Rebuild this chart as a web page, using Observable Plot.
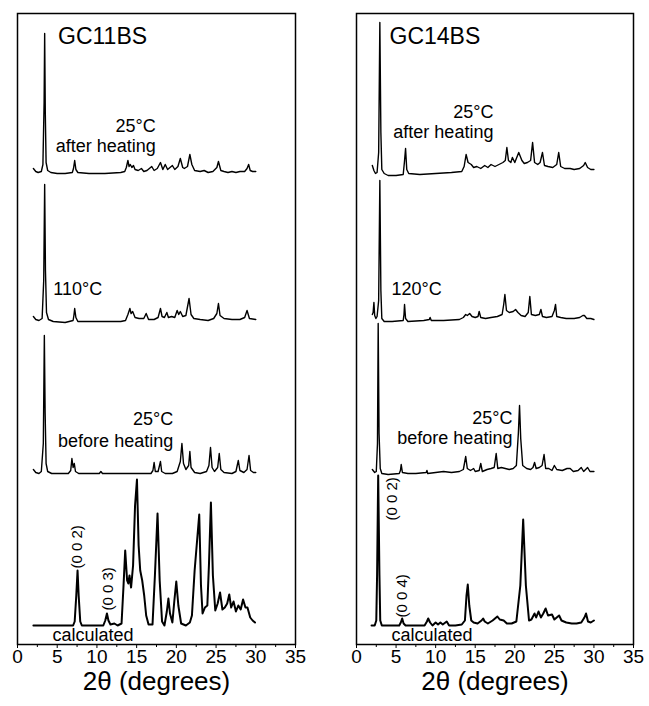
<!DOCTYPE html>
<html><head><meta charset="utf-8">
<script src="https://cdn.jsdelivr.net/npm/d3@7"></script>
<script src="https://cdn.jsdelivr.net/npm/@observablehq/plot@0.6"></script>
<style>
body{margin:0;background:#fff;}
#wrap{display:flex;width:649px;height:706px;background:#fff;}
</style></head><body><div id="wrap"></div>
<script>
// ---- tick labels ----
const xTicks = [0, 5, 10, 15, 20, 25, 30, 35];
const xMinorTicks = [2.5, 7.5, 12.5, 17.5, 22.5, 27.5, 32.5];
const axisTitle = "2θ (degrees)";

// ---- GC11BS patterns: [2θ (deg), intensity (a.u.)] ----
const gc11After = [[2.0,4],[2.3,1],[2.6,0],[3.0,1],[3.2,8],[3.35,70],[3.42,139],[3.5,60],[3.6,10],[3.8,2],[4.2,0],[5,-1],[6,-1],[6.9,0],[7.05,4],[7.2,12],[7.35,3],[7.6,0],[9,-1],[11,-1],[13,0],[13.5,1],[13.7,5],[13.9,12],[14.05,6],[14.2,8],[14.4,5],[14.6,7],[14.8,3],[15.2,2],[15.6,4],[15.9,1],[16.3,2],[16.9,6],[17.2,2],[17.6,4],[18.0,10],[18.3,3],[18.6,8],[18.9,3],[19.2,5],[19.5,7],[19.8,3],[20.2,6],[20.5,14],[20.8,5],[21.0,4],[21.4,6],[21.7,18],[21.95,8],[22.3,2],[23,1],[23.5,2],[24,0],[24.6,1],[25.1,5],[25.3,11],[25.6,2],[26,1],[26.5,0],[27,1],[27.5,0],[28,1],[28.6,1],[28.9,4],[29.1,8],[29.3,2],[29.6,1],[30,1]];
const gc11Heated = [[2.0,4],[2.3,1],[2.7,0],[3.1,2],[3.3,40],[3.42,136],[3.52,50],[3.65,8],[3.9,1],[4.5,-1],[6,-2],[7.0,0],[7.1,5],[7.2,12],[7.35,3],[7.6,-1],[9,-1],[11,-1],[13,-1],[13.6,0],[13.9,6],[14.15,12],[14.3,7],[14.5,9],[14.8,3],[15.3,2],[15.9,2],[16.2,7],[16.5,1],[17.2,1],[17.7,3],[18.0,12],[18.2,4],[18.5,3],[18.8,8],[19.0,3],[19.4,4],[19.8,3],[20.1,10],[20.3,6],[20.5,9],[20.8,4],[21.2,5],[21.6,22],[21.85,6],[22.2,2],[23,1],[24,0],[24.7,2],[25.1,7],[25.3,17],[25.5,5],[26,2],[27,1],[28,1],[28.6,3],[28.9,10],[29.2,2],[30,1]];
const gc11Before = [[2.0,4],[2.3,1],[2.7,0],[3.0,2],[3.25,30],[3.38,138],[3.48,60],[3.6,10],[3.8,2],[4.3,0],[6.4,0],[6.7,3],[6.85,15],[7.0,6],[7.15,10],[7.3,2],[7.7,0],[9,0],[10.3,0],[10.5,2],[10.7,0],[12,0],[14,0],[16.8,0],[17.05,3],[17.2,11],[17.35,2],[17.7,2],[18.0,12],[18.15,2],[18.6,0],[19.5,0],[20.1,2],[20.5,12],[20.7,30],[20.9,10],[21.2,4],[21.55,8],[21.7,22],[21.85,6],[22.3,1],[23,0],[23.8,2],[24.1,8],[24.3,26],[24.5,6],[24.8,2],[25.2,6],[25.4,20],[25.6,4],[26,1],[27,0],[27.5,2],[27.8,13],[28.0,3],[28.5,1],[28.9,4],[29.15,18],[29.35,3],[29.7,1],[30,1]];
const gc11Calc = [[2.0,0],[7.0,0],[7.2,4],[7.4,30],[7.56,55],[7.7,30],[7.9,4],[8.1,0],[10.8,0],[11.05,5],[11.26,12],[11.45,5],[11.7,1],[12.2,2],[12.6,0],[13.1,2],[13.35,40],[13.56,75],[13.8,45],[13.95,42],[14.1,50],[14.3,38],[14.55,60],[14.8,120],[15.04,146],[15.25,80],[15.45,55],[15.7,45],[15.95,30],[16.2,10],[16.5,1],[17.0,1],[17.3,50],[17.63,112],[17.9,45],[18.2,4],[18.5,0],[18.8,14],[19.0,27],[19.2,12],[19.5,3],[19.75,25],[19.99,44],[20.25,20],[20.6,2],[21.2,0],[21.7,3],[21.96,10],[22.3,55],[22.88,111],[23.1,40],[23.3,12],[23.6,18],[23.9,20],[24.1,60],[24.35,123],[24.6,50],[24.9,15],[25.2,22],[25.5,33],[25.8,16],[26.1,18],[26.4,22],[26.66,31],[26.9,18],[27.2,24],[27.5,14],[27.8,20],[28.1,16],[28.4,26],[28.7,18],[28.95,18],[29.3,8],[29.6,5],[29.9,3]];

// ---- GC14BS patterns ----
const gc14After = [[2.0,7],[2.2,2],[2.4,-1],[2.6,0],[2.8,20],[2.95,150],[3.08,40],[3.2,3],[3.5,-1],[4,-3],[5,-3],[5.9,-2],[6.05,10],[6.2,24],[6.35,3],[6.6,-1],[8,-2],[10,-1],[12,0],[13.3,1],[13.6,6],[13.85,18],[14.1,10],[14.5,8],[14.8,5],[15.2,6],[15.7,4],[16.2,7],[16.6,5],[17.0,8],[17.5,6],[18.0,8],[18.5,10],[18.8,12],[19.0,25],[19.2,12],[19.5,10],[19.7,15],[20.0,10],[20.5,20],[20.9,12],[21.2,9],[21.6,10],[22.0,12],[22.25,30],[22.5,10],[22.9,8],[23.2,10],[23.5,20],[23.75,7],[24.2,6],[24.8,5],[25.3,8],[25.55,20],[25.8,6],[26.3,4],[27,4],[27.5,3],[28.2,4],[28.7,7],[28.9,10],[29.2,5],[29.6,3],[30,3]];
const gc14Heated = [[2.0,6],[2.1,8],[2.2,18],[2.3,5],[2.45,2],[2.6,4],[2.8,20],[2.95,140],[3.08,30],[3.2,2],[3.5,-1],[4.5,-1],[5.9,0],[6.0,6],[6.07,16],[6.2,2],[6.5,-1],[8.5,0],[9.2,1],[9.3,3],[9.45,0],[11,0],[13,1],[13.5,3],[13.8,6],[14.0,5],[14.3,7],[14.6,4],[15.0,3],[15.35,4],[15.5,9],[15.7,3],[16.3,2],[17,3],[17.8,4],[18.4,6],[18.6,16],[18.75,26],[18.95,10],[19.3,8],[19.8,9],[20.1,11],[20.4,8],[20.8,5],[21.3,4],[21.7,8],[21.9,24],[22.1,6],[22.6,5],[23.1,6],[23.3,11],[23.5,4],[24.0,3],[24.7,4],[25.0,10],[25.15,16],[25.3,4],[25.8,3],[26.5,2],[27.5,2],[28.2,3],[28.6,5],[28.8,5],[29.1,2],[29.6,2],[30,1]];
const gc14Before = [[2.0,4],[2.3,1],[2.5,2],[2.65,30],[2.74,150],[2.85,40],[3.0,5],[3.2,0],[4,-1],[5.4,0],[5.55,3],[5.65,9],[5.8,1],[6.5,0],[7.5,0],[8.8,1],[8.9,3],[9.0,0],[10,1],[11,2],[12,1],[13,2],[13.5,4],[13.8,17],[14.0,5],[14.4,3],[14.8,5],[15.0,2],[15.5,3],[15.7,10],[15.9,2],[16.5,4],[17.0,5],[17.4,6],[17.65,20],[17.85,5],[18.3,6],[18.8,5],[19.3,4],[19.8,5],[20.2,8],[20.45,40],[20.6,68],[20.75,35],[21.0,8],[21.5,5],[22.0,4],[22.3,6],[22.5,11],[22.7,5],[23.1,6],[23.45,8],[23.7,19],[23.9,5],[24.3,5],[24.7,3],[25.0,8],[25.3,4],[26,3],[26.6,5],[27.0,5],[27.4,2],[28.0,3],[28.4,6],[28.7,2],[29.2,6],[29.5,2],[30,2]];
const gc14Calc = [[1.9,0],[2.3,0],[2.5,5],[2.6,50],[2.74,150],[2.9,50],[3.0,5],[3.2,0],[5.4,0],[5.6,3],[5.77,7],[5.95,2],[6.2,0],[8.6,0],[8.9,4],[9.06,7],[9.3,3],[9.6,0],[10.0,3],[10.3,1],[10.6,3],[10.9,1],[11.4,4],[11.7,0],[12.5,0],[13.3,1],[13.7,5],[13.9,30],[14.06,41],[14.25,20],[14.5,5],[14.8,3],[15.3,2],[15.8,5],[16.0,7],[16.2,4],[16.6,2],[17.2,5],[17.5,7],[17.8,9],[18.1,6],[18.6,5],[19.0,2],[19.6,2],[20.2,4],[20.7,40],[21.06,106],[21.4,40],[21.8,5],[22.1,6],[22.5,12],[22.7,8],[23.0,14],[23.3,8],[23.6,12],[23.9,17],[24.2,10],[24.7,11],[25.0,6],[25.6,10],[25.9,5],[26.5,3],[27.2,2],[27.8,2],[28.4,3],[28.8,8],[29.0,12],[29.25,4],[29.6,3],[30,5]];

// ---- layout (vertical stacking offset of each pattern) ----
const stackOffset = {calculated: 19, before: 171, heated: 324, after: 472};

const FONT = "'Liberation Sans', Arial, Helvetica, sans-serif";

function panel(cfg) {
  const rows = cfg.traces.flatMap(([cond, pts]) =>
    pts.map(([t, i]) => ({cond, t, y: i + stackOffset[cond]})));
  const exp = rows.filter(d => d.cond !== "calculated");
  const calc = rows.filter(d => d.cond === "calculated");
  const startNotes = cfg.notes.filter(n => n.anchor === "start");
  const endNotes = cfg.notes.filter(n => n.anchor === "end");
  return Plot.plot({
    width: cfg.width, height: 706,
    marginLeft: cfg.ml, marginRight: cfg.mr, marginTop: 13, marginBottom: 62,
    x: {domain: [0, 35]},
    y: {domain: [0, 631], axis: null},
    style: {fontFamily: FONT, fontSize: "17px", color: "#000", background: "#fff", overflow: "visible"},
    marks: [
      Plot.axisX({ticks: xMinorTicks, tickSize: 3, fill: "none", label: null, stroke: "#000"}),
      Plot.axisX({ticks: xTicks, tickSize: 4, tickPadding: 1, fontSize: 19, label: null, stroke: "#000", fill: "#000"}),
      Plot.text([axisTitle], {frameAnchor: "bottom", dy: 45, fontSize: 26, fill: "#000"}),
      Plot.line(exp, {x: "t", y: "y", z: "cond", stroke: "#000", strokeWidth: 1.4}),
      Plot.line(calc, {x: "t", y: "y", stroke: "#000", strokeWidth: 2}),
      Plot.text([cfg.title], {x: cfg.titlePos[0], y: cfg.titlePos[1], textAnchor: "start", lineAnchor: "bottom", fontSize: 23, fill: "#000"}),
      Plot.text(startNotes, {x: "x", y: "y", text: "text", textAnchor: "start", lineAnchor: "bottom", fill: "#000", fontSize: 18}),
      Plot.text(endNotes, {x: "x", y: "y", text: "text", textAnchor: "end", lineAnchor: "bottom", fill: "#000", fontSize: 18}),
      Plot.text(cfg.hkl, {x: "x", y: "y", text: "text", rotate: -90, textAnchor: "start", fill: "#000", fontSize: 15}),
      Plot.frame({stroke: "#000", strokeWidth: 1.5})
    ]
  });
}

const left = panel({
  width: 325, ml: 17, mr: 30, title: "GC11BS", titlePos: [5.1, 601],
  traces: [["after", gc11After], ["heated", gc11Heated], ["before", gc11Before], ["calculated", gc11Calc]],
  notes: [
    {text: "25°C", x: 17.4, y: 513, anchor: "end"},
    {text: "after heating", x: 17.4, y: 493, anchor: "end"},
    {text: "110°C", x: 4.5, y: 350, anchor: "start"},
    {text: "25°C", x: 19.6, y: 220, anchor: "end"},
    {text: "before heating", x: 19.6, y: 198, anchor: "end"},
    {text: "calculated", x: 4.4, y: 4, anchor: "start"}
  ],
  hkl: [{text: "(0 0 2)", x: 7.52, y: 76}, {text: "(0 0 3)", x: 11.43, y: 34}]
});

const right = panel({
  width: 324, ml: 31, mr: 16, title: "GC14BS", titlePos: [4.17, 601],
  traces: [["after", gc14After], ["heated", gc14Heated], ["before", gc14Before], ["calculated", gc14Calc]],
  notes: [
    {text: "25°C", x: 17.3, y: 527, anchor: "end"},
    {text: "after heating", x: 17.3, y: 507, anchor: "end"},
    {text: "120°C", x: 4.42, y: 350, anchor: "start"},
    {text: "25°C", x: 19.7, y: 221, anchor: "end"},
    {text: "before heating", x: 19.7, y: 201, anchor: "end"},
    {text: "calculated", x: 4.42, y: 4, anchor: "start"}
  ],
  hkl: [{text: "(0 0 2)", x: 4.51, y: 124}, {text: "(0 0 4)", x: 5.77, y: 27}]
});

document.getElementById("wrap").append(left, right);
</script></body></html>
